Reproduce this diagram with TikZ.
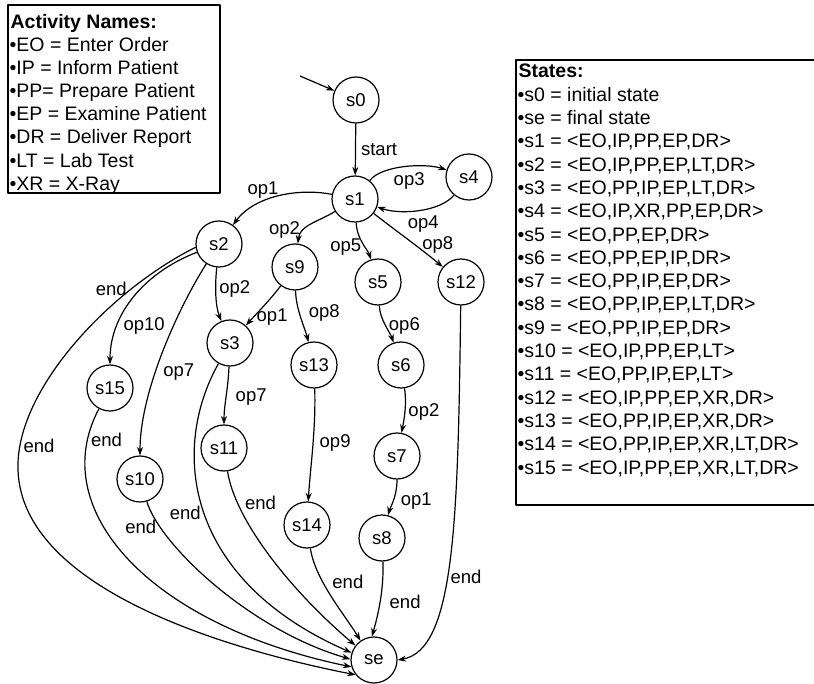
\documentclass[tikz,border=0pt]{standalone}
\usepackage{fontspec}
\setmainfont{Liberation Sans}
\usetikzlibrary{arrows.meta,positioning}
\begin{document}
\begin{tikzpicture}[x=1pt,y=-1pt,>={Stealth[length=8.5pt,width=6pt]},line width=1.2pt,line join=round,inner sep=3pt,font=\fontsize{18.5}{23.3}\selectfont,
		stnode/.style={circle,draw,minimum size=46pt,inner sep=0pt},
		legend/.style={anchor=base west,inner sep=0pt,font=\fontsize{19.5}{23.3}\selectfont}]
	\useasboundingbox (0,0) rectangle (814,684);
	\draw (8,5) rectangle (220,193);
	\draw (516,60) rectangle (830,505);
	\node [legend] (acttitle) at (10,28.5) {\textbf{Activity Names:}};
	\foreach \txt [count=\i] in {EO = Enter Order,IP = Inform Patient,PP= Prepare Patient,EP = Examine Patient,DR = Deliver Report,LT = Lab Test,XR = X-Ray}
		\node [legend] (act\i) at (9,28.5+23.1*\i) {\textbullet\txt};
	\node [legend] (sttitle) at (518,78) {\textbf{States:}};
	\foreach \txt [count=\i] in {{s0 = initial state},{se = final state},{s1 = <EO,IP,PP,EP,DR>},{s2 = <EO,IP,PP,EP,LT,DR>},{s3 = <EO,PP,IP,EP,LT,DR>},{s4 = <EO,IP,XR,PP,EP,DR>},{s5 = <EO,PP,EP,DR>},{s6 = <EO,PP,EP,IP,DR>},{s7 = <EO,PP,IP,EP,DR>},{s8 = <EO,PP,IP,EP,LT,DR>},{s9 = <EO,PP,IP,EP,DR>},{s10 = <EO,IP,PP,EP,LT>},{s11 = <EO,PP,IP,EP,LT>},{s12 = <EO,IP,PP,EP,XR,DR>},{s13 = <EO,PP,IP,EP,XR,DR>},{s14 = <EO,PP,IP,EP,XR,LT,DR>},{s15 = <EO,IP,PP,EP,XR,LT,DR>}}
		\node [legend] (st\i) at (517,78+23.3*\i) {\textbullet\txt};
	% states
	\node [stnode] (s0) at (356,100) {s0};
	\node [stnode] (s1) at (355,199) {s1};
	\node [stnode] (s4) at (469,177) {s4};
	\node [stnode] (s2) at (219,244) {s2};
	\node [stnode] (s9) at (295,267) {s9};
	\node [stnode] (s5) at (378,282) {s5};
	\node [stnode] (s12) at (461,282) {s12};
	\node [stnode] (s3) at (230,343) {s3};
	\node [stnode] (s13) at (314,365) {s13};
	\node [stnode] (s6) at (401,365) {s6};
	\node [stnode] (s15) at (110,388) {s15};
	\node [stnode] (s11) at (224,448) {s11};
	\node [stnode] (s10) at (140,479) {s10};
	\node [stnode] (s7) at (397,456) {s7};
	\node [stnode] (s14) at (307,525) {s14};
	\node [stnode] (s8) at (382,538) {s8};
	\node [stnode] (se) at (374,660) {se};
	\coordinate (init) at (300,76);
	% transitions
	\draw [->] (init) -- (s0);
	\draw [->] (s0) -- node [right=2pt] {start} (s1);
	\draw [->] (s1) .. controls (382,165) and (425,163) .. (s4) node [pos=0.55,below=3pt] {op3};
	\draw [->] (s4) .. controls (440,212) and (400,215) .. (s1) node [pos=0.45,below=2pt] {op4};
	\draw [->] (s1) .. controls (300,188) and (255,195) .. (s2) node [pos=0.65,above] {op1};
	\draw [->] (s1) .. controls (318,222) and (300,225) .. (s9) node [pos=0.7,left] {op2};
	\draw [->] (s1) .. controls (357,240) and (368,250) .. (s5) node [pos=0.6,left] {op5};
	\draw [->] (s1) .. controls (395,230) and (420,248) .. (s12) node [pos=0.6,right=4pt] {op8};
	\draw [->] (s2) .. controls (215,285) and (215,305) .. (s3) node [pos=0.4,right] {op2};
	\draw [->] (s9) .. controls (270,300) and (258,312) .. (s3) node [pos=0.8,right] {op1};
	\draw [->] (s9) .. controls (296,310) and (305,328) .. (s13) node [pos=0.4,right=6pt] {op8};
	\draw [->] (s5) .. controls (380,320) and (390,332) .. (s6) node [midway,right] {op6};
	\draw [->] (s6) .. controls (407,405) and (404,420) .. (s7) node [midway,right] {op2};
	\draw [->] (s7) .. controls (397,497) and (390,508) .. (s8) node [midway,right=4pt] {op1};
	\draw [->] (s13) .. controls (316,430) and (310,470) .. (s14) node [pos=0.45,right=3pt] {op9};
	\draw [->] (s3) .. controls (228,390) and (224,405) .. (s11) node [midway,right=6pt] {op7};
	\draw [->] (s2) .. controls (180,305) and (140,390) .. (s10) node [pos=0.6,right=4pt] {op7};
	\draw [->] (s2) .. controls (150,270) and (110,310) .. (s15) node [pos=0.75,right=3pt] {op10};
	% end transitions
	\draw [->] (s2.188) .. controls (110,290) and (15,390) .. (18,470) node [pos=0.25,left=1pt] {end} node [pos=0.9,right] {end} .. controls (22,590) and (230,650) .. (se.219);
	\draw [->] (s15) .. controls (45,510) and (150,625) .. (se.197) node [pos=0.1,right] {end};
	\draw [->] (s10) .. controls (160,545) and (250,630) .. (se.178) node [pos=0.17,left] {end};
	\draw [->] (s3) .. controls (170,450) and (185,580) .. (se.162) node [pos=0.5,left] {end};
	\draw [->] (s11) .. controls (235,520) and (290,590) .. (se.142) node [pos=0.2,right=4pt] {end};
	\draw [->] (s14) .. controls (315,580) and (345,615) .. (se.125) node [pos=0.35,right=6pt] {end};
	\draw [->] (s8) .. controls (384,590) and (378,615) .. (se.95) node [midway,right=6pt] {end};
	\draw [->] (s12) .. controls (458,520) and (455,650) .. (se.east) node [pos=0.55,right] {end};
\end{tikzpicture}
\end{document}
